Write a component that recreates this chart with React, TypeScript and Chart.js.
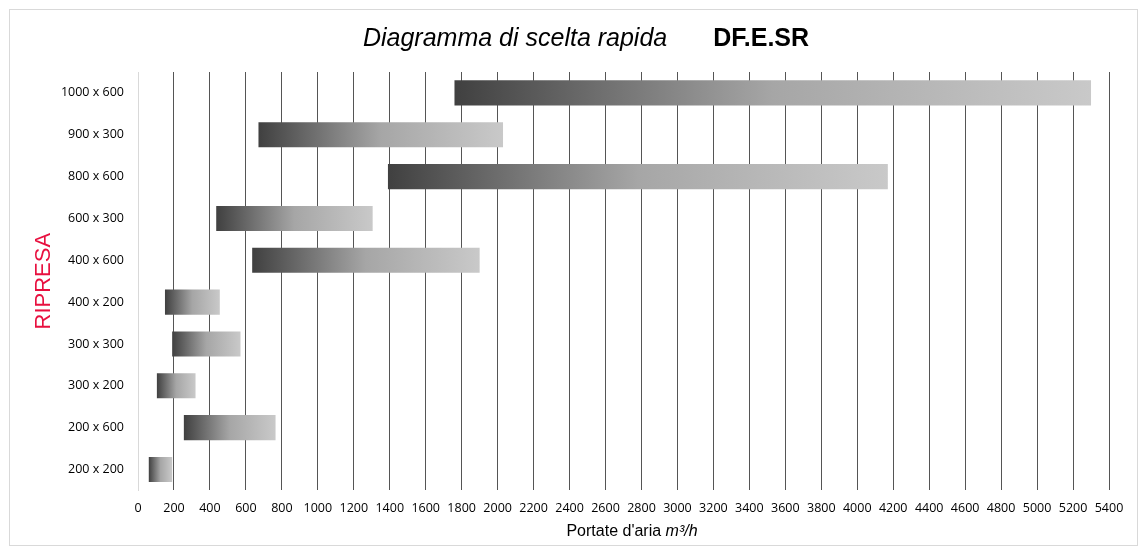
import React, { useEffect, useRef } from 'react';
import { Chart, registerables } from 'chart.js';

Chart.register(...registerables);

const categories = ['1000 x 600', '900 x 300', '800 x 600', '600 x 300', '400 x 600', '400 x 200', '300 x 300', '300 x 200', '200 x 600', '200 x 200'];
const rangeStart = [1760, 670, 1390, 435, 635, 150, 190, 105, 255, 60];
const rangeEnd = [5300, 2030, 4170, 1305, 1900, 455, 570, 320, 765, 190];
const xMin = 0;
const xMax = 5400;
const xStep = 200;
const titleItalic = 'Diagramma di scelta rapida';
const titleBold = 'DF.E.SR';
const xTitleMain = "Portate d'aria ";
const xTitleUnit = 'm³/h';
const yTitle = 'RIPRESA';

const W = 1146;
const H = 554;

const decor = {
  id: 'decor',
  beforeDraw(chart: any) {
    const ctx = chart.ctx;
    ctx.save();
    ctx.fillStyle = '#ffffff';
    ctx.fillRect(0, 0, chart.width, chart.height);
    ctx.strokeStyle = '#d9d9d9';
    ctx.lineWidth = 1;
    ctx.strokeRect(9.5, 9.5, 1128, 536);
    ctx.restore();
  },
  afterDraw(chart: any) {
    const ctx = chart.ctx;
    ctx.save();
    ctx.fillStyle = '#000000';
    ctx.textBaseline = 'alphabetic';
    ctx.textAlign = 'left';
    // main title
    const fItalic = 'italic 25px "Liberation Sans", Arial, sans-serif';
    const fBold = 'bold 25px "Liberation Sans", Arial, sans-serif';
    ctx.font = fItalic;
    const w1 = ctx.measureText(titleItalic).width;
    ctx.font = fBold;
    const w2 = ctx.measureText(titleBold).width;
    const gap = 46;
    const total = w1 + gap + w2;
    const start = 586 - total / 2;
    ctx.font = fItalic;
    ctx.fillText(titleItalic, start, 46);
    ctx.font = fBold;
    ctx.fillText(titleBold, start + w1 + gap, 46);
    // x axis title
    const fN = '16px "Liberation Sans", Arial, sans-serif';
    const fI = 'italic 16px "Liberation Sans", Arial, sans-serif';
    ctx.font = fN;
    const a = ctx.measureText(xTitleMain).width;
    ctx.font = fI;
    const b = ctx.measureText(xTitleUnit).width;
    const xs = 632 - (a + b) / 2;
    ctx.font = fN;
    ctx.fillText(xTitleMain, xs, 536);
    ctx.font = fI;
    ctx.fillText(xTitleUnit, xs + a, 536);
    ctx.restore();
  },
};

export default function App() {
  const ref = useRef<HTMLCanvasElement | null>(null);

  useEffect(() => {
    if (!ref.current) return;
    const data = categories.map((_, i) => [rangeStart[i], rangeEnd[i]]);
    const chart = new Chart(ref.current, {
      type: 'bar',
      data: {
        labels: categories,
        datasets: [
          {
            data: data as any,
            borderWidth: 0,
            borderSkipped: false,
            categoryPercentage: 1,
            barPercentage: 0.6,
            backgroundColor: (c: any) => {
              const ch = c.chart;
              const xsc = ch.scales && ch.scales.x;
              if (!xsc || c.type !== 'data' || !Array.isArray(c.raw)) return '#808080';
              const x0 = xsc.getPixelForValue(c.raw[0]);
              const x1 = xsc.getPixelForValue(c.raw[1]);
              if (!isFinite(x0) || !isFinite(x1) || x0 === x1) return '#808080';
              const g = ch.ctx.createLinearGradient(x0, 0, x1, 0);
              g.addColorStop(0, '#404040');
              g.addColorStop(0.5, '#a6a6a6');
              g.addColorStop(1, '#c9c9c9');
              return g;
            },
          },
        ],
      },
      options: {
        indexAxis: 'y',
        responsive: false,
        animation: false,
        layout: { padding: { top: 72, right: 37, bottom: 0, left: 0 } },
        plugins: {
          legend: { display: false },
          tooltip: { enabled: false },
          title: { display: false },
        },
        scales: {
          x: {
            type: 'linear',
            min: xMin,
            max: xMax,
            ticks: {
              stepSize: xStep,
              color: '#000000',
              padding: 11,
              font: { family: '"Open Sans", sans-serif', size: 12.5 },
              maxRotation: 0,
              autoSkip: false,
              callback: (v: any) => String(v),
            },
            grid: {
              drawTicks: false,
              color: (c: any) => (c.tick && c.tick.value === 0 ? '#d9d9d9' : '#555555'),
              lineWidth: 1,
            },
            border: { display: false },
            afterFit: (s: any) => {
              s.height = 63.6;
            },
          },
          y: {
            type: 'category',
            ticks: {
              color: '#000000',
              padding: 14,
              font: { family: '"Open Sans", sans-serif', size: 12.5 },
              autoSkip: false,
            },
            grid: { display: false, drawTicks: false },
            border: { display: true, color: '#d9d9d9', width: 1 },
            title: {
              display: true,
              text: yTitle,
              color: '#e8103f',
              font: { family: '"Liberation Sans", Arial, sans-serif', size: 22 },
              padding: { top: 31, bottom: 0 },
            },
            afterFit: (s: any) => {
              s.width = 138;
            },
          },
        },
      },
      plugins: [decor],
    });
    return () => chart.destroy();
  }, []);

  return (
    <div style={{ position: 'fixed', left: 0, top: 0, width: W, height: H, background: '#fff' }}>
      <canvas ref={ref} width={W} height={H} style={{ display: 'block', width: W, height: H }} />
    </div>
  );
}
